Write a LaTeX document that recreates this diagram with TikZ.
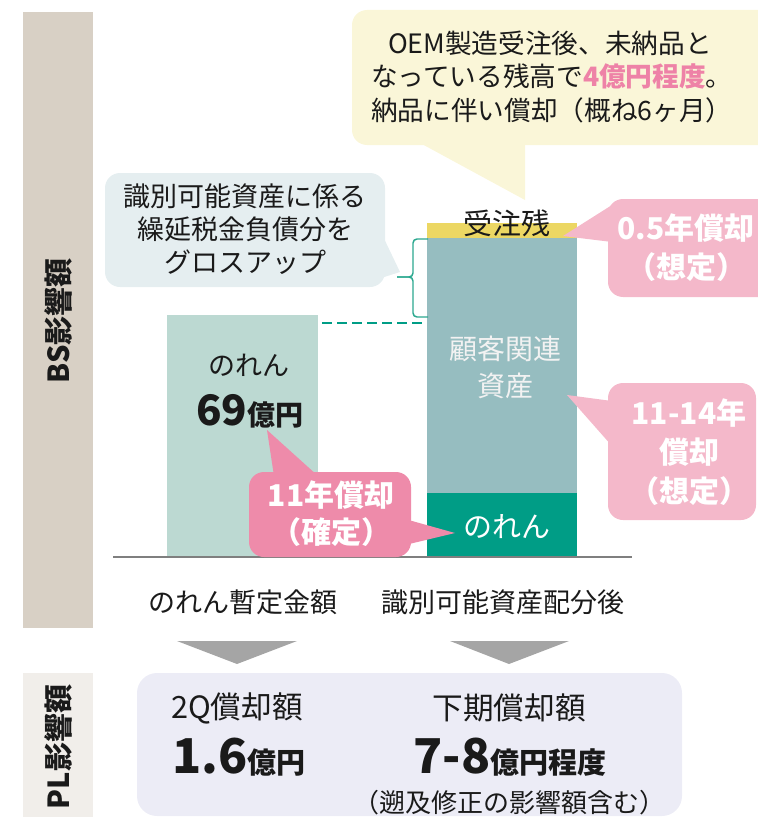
\documentclass[tikz,border=0pt]{standalone}
\usepackage{fontspec}
\setmainfont{Noto Sans CJK JP}
\definecolor{bsbg}{HTML}{D8D0C5}
\definecolor{plbg}{HTML}{F1EEEA}
\definecolor{callY}{HTML}{FAF6D8}
\definecolor{callG}{HTML}{E5EEF0}
\definecolor{barL}{HTML}{BCD9D2}
\definecolor{barR}{HTML}{96BDC0}
\definecolor{stripY}{HTML}{ECD763}
\definecolor{tealG}{HTML}{009D86}
\definecolor{braceC}{HTML}{2BA88F}
\definecolor{pinkL}{HTML}{F4B8CA}
\definecolor{pinkD}{HTML}{EE8BAA}
\definecolor{pinkT}{HTML}{EE82A7}
\definecolor{triC}{HTML}{A5A5A5}
\definecolor{botbox}{HTML}{ECECF6}
\definecolor{ink}{HTML}{1A1A1A}
\definecolor{baseC}{HTML}{7F7F7F}
\newcommand\myfs[2]{\fontsize{#1}{#2}\selectfont}
\begin{document}
\begin{tikzpicture}[x=0.75pt,y=-0.75pt,
  txt/.style={inner sep=0pt,outer sep=0pt,text=ink},
  wtxt/.style={inner sep=0pt,outer sep=0pt,text=white},
  ptxt/.style={inner sep=0pt,outer sep=0pt,text=white,align=center,font=\bfseries},
  balloon/.style={rounded corners=11.25pt}]
\useasboundingbox (0,0) rectangle (757,817);

% side panels
\fill[bsbg] (23,12) rectangle (93,628);
\fill[plbg] (23,673) rectangle (93,817);
\node[txt, rotate=90, font=\myfs{21.75}{26}\bfseries] (bs) at (58,321) {BS影響額};
\node[txt, rotate=90, font=\myfs{21.75}{26}\bfseries] (pl) at (58,747) {PL影響額};

% bars
\fill[barL] (167,315) rectangle (318,557);
\fill[stripY] (427,223) rectangle (577,238);
\fill[barR] (427,238) rectangle (577,493);
\fill[tealG] (427,493) rectangle (577,557);
\draw[baseC, line width=1.5pt] (113,557) -- (632,557);

% dashed connector and brace
\coordinate (dashA) at (322,323);
\coordinate (dashB) at (427,323);
\draw[tealG, line width=1.9pt, dash pattern=on 7.5pt off 3.75pt] (dashA) -- (dashB);
\draw[braceC, line width=1.1pt, rounded corners=3pt] (428,239) -- (413,239) -- (413,277) -- (397,277);
\draw[braceC, line width=1.1pt, rounded corners=3pt] (397,277) -- (413,277) -- (413,317) -- (428,317);

% bar texts
\node[txt, font=\myfs{21.75}{26}] (juchu) at (507,223) {受注残};
\node[wtxt, text=white!95!black, align=center, font=\myfs{21}{27.75}] (kokyaku) at (505,367.5) {顧客関連\\資産};
\node[wtxt, font=\myfs{21.75}{26}] (noren2) at (507,527) {のれん};
\node[txt, font=\myfs{20.25}{24}] (noren1) at (249,365) {のれん};
\node[txt, anchor=base west] (yen69) at (196,425) {{\myfs{31.5}{36}\bfseries 69}{\myfs{21}{24}\bfseries 億円}};

% top callout
\fill[callY, balloon] (352,10) rectangle (790,145);
\fill[callY] (420,143) -- (525,200) -- (525,143) -- cycle;
\node[txt, anchor=base west, font=\myfs{20}{24}] (oem1) at (388,54) {OEM製造受注後、未納品と};
\node[txt, anchor=base west, font=\myfs{20}{24}] (oem2) at (371,87) {なっている残高で{\bfseries\color{pinkT}4億円程度}。};
\node[txt, anchor=base west, font=\myfs{20}{24}] (oem3) at (371,120) {納品に伴い償却（概ね6ヶ月）};

% grey callout
\fill[callG, balloon] (105,173) rectangle (385,287);
\fill[callG] (378,226) -- (400,272) -- (378,279) -- cycle;
\node[txt, align=center, font=\myfs{20.25}{24.75}] (dtl) at (245,229) {識別可能資産に係る\\繰延税金負債分を\\グロスアップ};

% pink callouts
\fill[pinkL, balloon] (608,199) rectangle (790,297);
\fill[pinkL] (612,205) -- (563,236) -- (612,242) -- cycle;
\node[ptxt, font=\myfs{22.5}{29.25}\bfseries] (p05) at (686,247.5) {0.5年償却\\（想定）};

\fill[pinkL, balloon] (608,383) rectangle (756,520);
\fill[pinkL] (612,401) -- (567,395) -- (612,446) -- cycle;
\node[ptxt, font=\myfs{22.5}{29.25}\bfseries] (p1114) at (689,452) {11-14年\\償却\\（想定）};

\fill[pinkD, balloon] (249,472) rectangle (411,557);
\fill[pinkD] (274,476) -- (267,430) -- (318,476) -- cycle;
\fill[pinkD] (405,519) -- (455,533) -- (405,545) -- cycle;
\node[ptxt, font=\myfs{22.5}{27.75}\bfseries] (p11) at (331,513.5) {11年償却\\（確定）};

% category labels
\node[txt, font=\myfs{20.25}{24}] (lab1) at (243,602) {のれん暫定金額};
\node[txt, font=\myfs{20.25}{24}] (lab2) at (503,602) {識別可能資産配分後};

% down triangles
\fill[triC] (177,641) -- (297,641) -- (237,664) -- cycle;
\fill[triC] (450,641) -- (569,641) -- (509,664) -- cycle;

% PL box
\fill[botbox, rounded corners=15pt] (137,673) rectangle (682,816);
\node[txt, font=\myfs{23}{27}] (q2) at (237,708) {2Q償却額};
\node[txt, anchor=base west] (q2v) at (172,773) {{\myfs{36}{40}\bfseries 1.6}{\myfs{21.75}{26}\bfseries 億円}};
\node[txt, font=\myfs{23}{27}] (shimo) at (509,708) {下期償却額};
\node[txt, anchor=base] (shimov) at (510,773) {{\myfs{36}{40}\bfseries 7-8}{\myfs{21.75}{26}\bfseries 億円程度}};
\node[txt, font=\myfs{19.5}{23}] (sokyu) at (509,803) {（遡及修正の影響額含む）};
\end{tikzpicture}
\end{document}
